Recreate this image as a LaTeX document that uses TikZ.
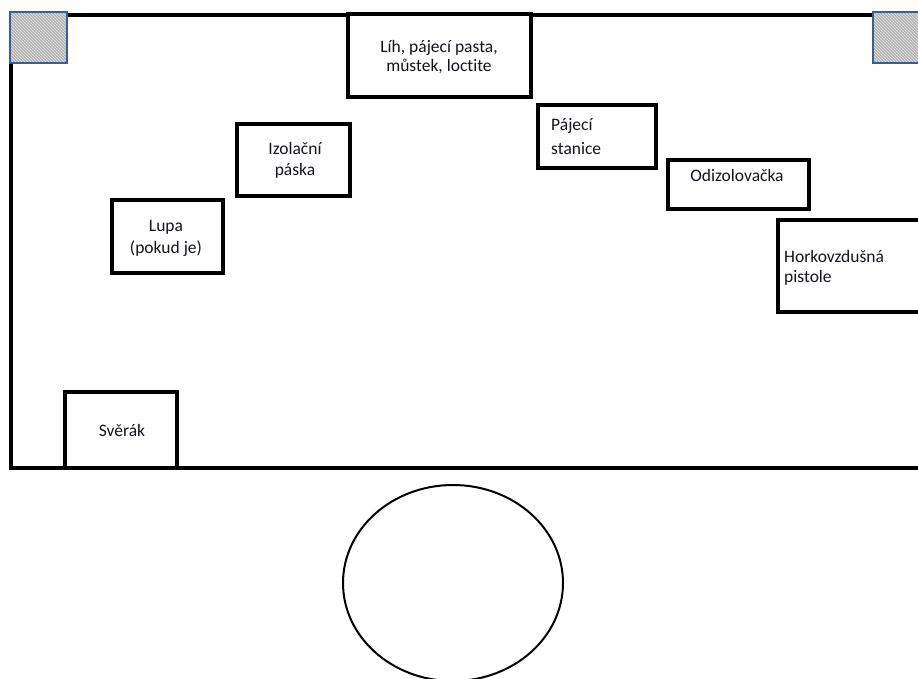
\documentclass[tikz,border=0pt]{standalone}
\usepackage{fontspec}
\setmainfont[Ligatures=NoCommon]{Carlito}
\usetikzlibrary{patterns,shapes.geometric}
\definecolor{padblue}{HTML}{3A5F8F}
\definecolor{inkc}{HTML}{14141E}

\begin{document}
\begin{tikzpicture}[x=1pt,y=-1pt,
  wall/.style={line width=4.5pt, line cap=rect},
  itembox/.style={draw, line width=4.5pt, rectangle, inner sep=0pt, fill=white},
  lbl/.style={text=inkc, inner sep=0pt},
  fs/.style={font=\fontsize{17.5}{#1}\selectfont},
  cornerpad/.style={rectangle, inner sep=0pt, fill=gray!60,
    postaction={pattern=north west lines, pattern color=gray!20},
    postaction={draw=padblue, line width=2pt}},
]
\useasboundingbox (0,0) rectangle (918,679);
\clip (0,0) rectangle (918,679);

% room walls (the right wall lies outside the drawing)
\draw[wall] (960,15) -- (11,15) -- (11,468) -- (960,468);

% corner pads
\node[cornerpad, minimum width=57, minimum height=51] (padL) at (38.5,37.5) {};
\node[cornerpad, minimum width=57, minimum height=51] (padR) at (901.5,37.5) {};

% furniture and tools
\node[itembox, minimum width=183, minimum height=83] (lih)   at (439.5,55.5) {};
\node[itembox, minimum width=113, minimum height=72] (izol)  at (293.5,160) {};
\node[itembox, minimum width=111, minimum height=73] (lupa)  at (167.5,236.5) {};
\node[itembox, minimum width=118, minimum height=63] (pajec) at (597,136.5) {};
\node[itembox, minimum width=141, minimum height=49] (odiz)  at (738.5,184.5) {};
\node[itembox, minimum width=180, minimum height=92] (hork)  at (868,266) {};
\node[itembox, minimum width=112, minimum height=76] (sverak) at (121,430) {};

% labels (multi-line labels are placed by the baseline of their last line)
\node[lbl, fs=19, align=center, anchor=base] (lih-t) at (439,72) {Líh, pájecí pasta,\\můstek, loctite};
\node[lbl, fs=21, align=center, anchor=base] (izol-t) at (295,176) {Izolační\\páska};
\node[lbl, fs=21, align=center, anchor=base] (lupa-t) at (166,253) {Lupa\\(pokud je)};
\node[lbl, fs=24, align=left, anchor=base west] (pajec-t) at (551,155) {Pájecí\\stanice};
\node[lbl, fs=20, anchor=base] (odiz-t) at (737,182) {Odizolovačka};
\node[lbl, fs=20, align=left, anchor=base west] (hork-t) at (784,282) {Horkovzdušná\\pistole};
\node[lbl, fs=20, anchor=base] (sverak-t) at (122,436) {Svěrák};

% round table
\node[draw, ellipse, line width=2pt, inner sep=0pt, minimum width=220, minimum height=196] (stul) at (453,583) {};
\end{tikzpicture}
\end{document}
